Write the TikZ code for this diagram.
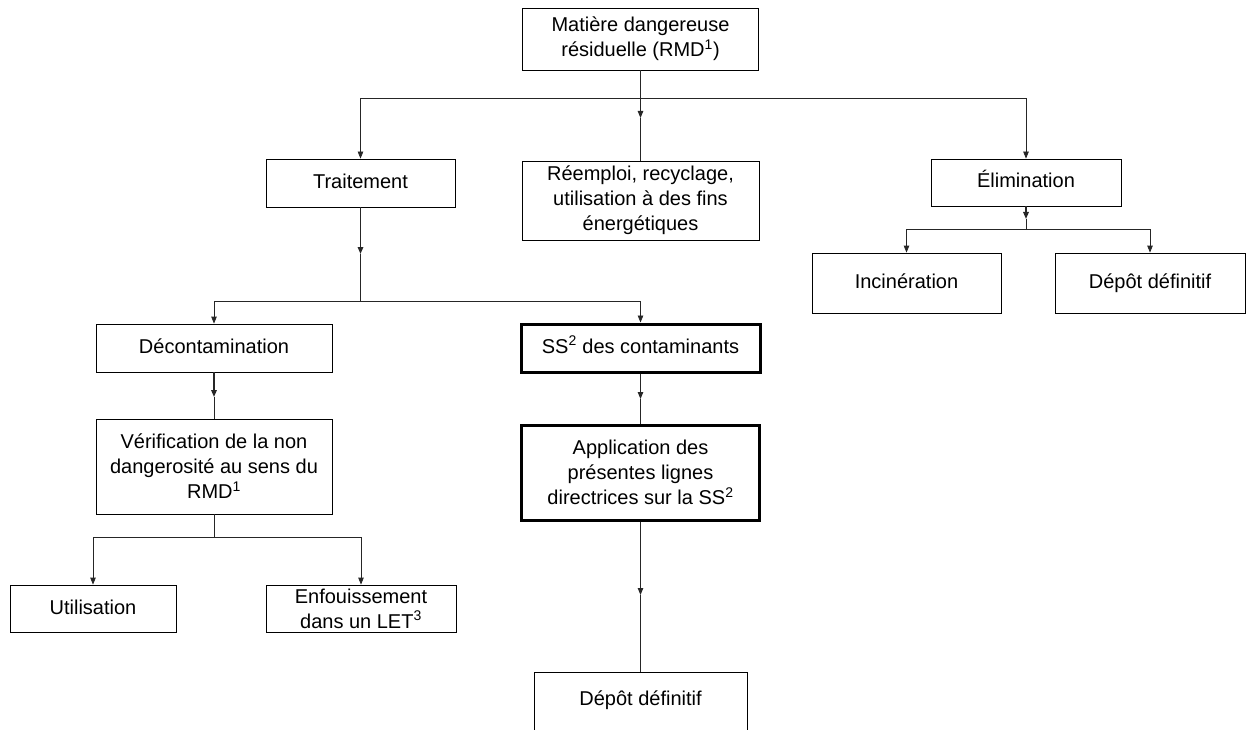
\documentclass[tikz,border=0pt]{standalone}
\usepackage{fontspec}
\setmainfont{Liberation Sans}
\usetikzlibrary{arrows.meta}
\tikzset{
  box/.style={draw=black, line width=0.8pt, align=center, inner sep=0pt,
              font=\fontsize{20}{25}\selectfont},
  boldbox/.style={box, line width=3pt},
  one/.style={text height=14.5pt, text depth=3.5pt},
  conn/.style={draw=black!85, line width=0.8pt},
  arr/.style={conn, -{Triangle[length=7pt,width=5.5pt]}},
  heavy/.style={line width=1.5pt},
}
\begin{document}
\begin{tikzpicture}[x=1pt,y=-1pt]
\useasboundingbox (0,0) rectangle (1250,730);
% boxes
\node[box, minimum width=236pt, minimum height=62pt] (top) at (640.5,39)
  {Matière dangereuse\\résiduelle (RMD\textsuperscript{1})};
\node[box, one, minimum width=189pt, minimum height=48pt] (trait) at (360.5,183) {Traitement};
\node[box, minimum width=237pt, minimum height=79pt] (reemp) at (640.5,200.5)
  {Réemploi, recyclage,\\utilisation à des fins\\énergétiques};
\node[box, one, minimum width=190pt, minimum height=47pt] (elim) at (1026,182.5) {Élimination};
\node[box, one, minimum width=189pt, minimum height=60pt] (incin) at (906.5,283) {Incinération};
\node[box, one, minimum width=190pt, minimum height=60pt] (depA) at (1150,283) {Dépôt définitif};
\node[box, one, minimum width=236pt, minimum height=48pt] (decon) at (214,348) {Décontamination};
\node[boldbox, one, minimum width=239pt, minimum height=48pt] (ss) at (640.5,348)
  {SS\textsuperscript{2} des contaminants};
\node[box, minimum width=236pt, minimum height=95pt] (verif) at (214,466.5)
  {Vérification de la non\\dangerosité au sens du\\RMD\textsuperscript{1}};
\node[boldbox, minimum width=238pt, minimum height=95pt] (appl) at (640.5,472.5)
  {Application des\\présentes lignes\\directrices sur la SS\textsuperscript{2}};
\node[box, one, minimum width=166pt, minimum height=47pt] (util) at (93,608.5) {Utilisation};
\node[box, minimum width=190pt, minimum height=47pt] (enf) at (361,608.5)
  {Enfouissement\\dans un LET\textsuperscript{3}};
\node[box, minimum width=213pt, minimum height=90pt, anchor=north] (depB) at (640.5,672) {};
\node[font=\fontsize{20}{25}\selectfont, inner sep=0pt, one] (depBt) at (640.5,700) {Dépôt définitif};
% junctions and mid arrow tips
\coordinate (j1) at (640.5,98);
\coordinate (a1) at (640.5,118);
\coordinate (a2) at (360.5,254);
\coordinate (j2) at (360.5,301);
\coordinate (a3) at (1026,219);
\coordinate (j3) at (1026,229);
\coordinate (a4) at (214,397);
\coordinate (a5) at (640.5,399);
\coordinate (j4) at (214,537);
\coordinate (a6) at (640.5,595);
% connectors
\draw[conn] (top.south) -- (j1);
\draw[arr] (j1) -- (a1);
\draw[conn] (a1) -- (reemp.north);
\draw[arr] (j1) -| (trait.north);
\draw[arr] (j1) -| (elim.north);
\draw[arr, heavy] (trait.south) -- (a2);
\draw[conn] (a2) -- (j2);
\draw[arr] (j2) -| (decon.north);
\draw[arr] (j2) -| (ss.north);
\draw[arr, heavy] (elim.south) -- (a3);
\draw[conn] (a3) -- (j3);
\draw[arr] (j3) -| (incin.north);
\draw[arr] (j3) -| (depA.north);
\draw[arr, heavy] (decon.south) -- (a4);
\draw[conn] (a4) -- (verif.north);
\draw[arr] (ss.south) -- (a5);
\draw[conn] (a5) -- (appl.north);
\draw[conn] (verif.south) -- (j4);
\draw[arr] (j4) -| (util.north);
\draw[arr] (j4) -| (enf.north);
\draw[arr] (appl.south) -- (a6);
\draw[conn] (a6) -- (depB.north);
\end{tikzpicture}
\end{document}
